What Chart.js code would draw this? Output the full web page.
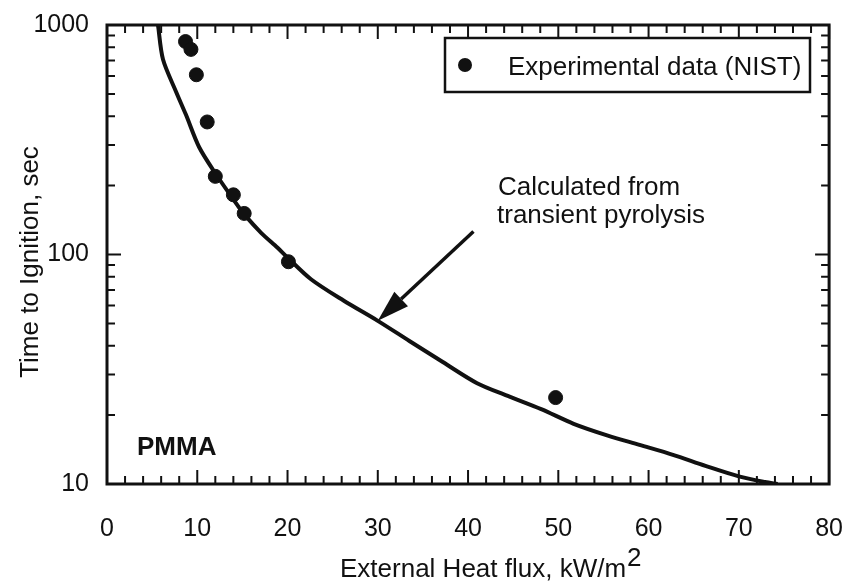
<!DOCTYPE html>
<html>
<head>
<meta charset="utf-8">
<script src="https://cdn.jsdelivr.net/npm/chart.js@4.4.1/dist/chart.umd.min.js"></script>
<style>
  html, body { margin: 0; padding: 0; background: #fff; }
  #wrap { width: 865px; height: 581px; }
</style>
</head>
<body>
<div id="wrap"><canvas id="chart" width="865" height="581"></canvas></div>
<script>
// Experimental data (NIST)
const fluxExp = [8.7, 9.3, 9.9, 11.1, 12.0, 14.0, 15.2, 20.1, 49.7];
const timeExp = [847, 783, 607, 378, 219, 182, 151, 93, 23.8];

// Calculated from transient pyrolysis
const fluxCalc = [5.65, 6.2, 7.65, 8.74, 10.2, 12.0, 14.5, 15.3, 17.1, 18.9, 20.0, 22.6, 26.2, 30.0, 33.5,
  37.2, 41.0, 44.4, 48.1, 51.7, 55.4, 59.0, 62.7, 66.3, 70.0, 72.9, 74.3];
const timeCalc = [1000, 709, 512, 407, 294, 226, 163, 148, 124, 107, 97, 78, 63, 51.4, 42,
  34, 27.5, 24.2, 21.2, 18.3, 16.3, 14.8, 13.4, 12.0, 10.8, 10.2, 10];

const yTickLabels = [10, 100, 1000];
const xMajor = [0, 10, 20, 30, 40, 50, 60, 70, 80];

const FONT = '"Liberation Sans", Arial, Helvetica, sans-serif';
const INK = '#111';

// frame, inward ticks, legend and notes
const decorations = {
  id: 'decorations',
  afterDraw(chart) {
    const { ctx, chartArea: a, scales: { x, y } } = chart;
    ctx.save();
    ctx.strokeStyle = INK;
    ctx.fillStyle = INK;

    // ticks
    ctx.lineWidth = 2;
    ctx.beginPath();
    for (let v = 0; v <= 80; v += 2) {
      const px = x.getPixelForValue(v);
      const len = v % 10 === 0 ? 14 : 8;
      ctx.moveTo(px, a.bottom); ctx.lineTo(px, a.bottom - len);
      ctx.moveTo(px, a.top); ctx.lineTo(px, a.top + len);
    }
    for (let d = 10; d <= 1000; d *= 10) {
      for (let m = 1; m <= 9; m++) {
        const v = d * m;
        if (v > 1000) break;
        const py = y.getPixelForValue(v);
        const len = m === 1 ? 14 : 8;
        ctx.moveTo(a.left, py); ctx.lineTo(a.left + len, py);
        ctx.moveTo(a.right, py); ctx.lineTo(a.right - len, py);
      }
    }
    ctx.stroke();

    // frame
    ctx.lineWidth = 3;
    ctx.strokeRect(a.left, a.top, a.right - a.left, a.bottom - a.top);

    // legend box
    const lx = 445, ly = 38, lw = 365, lh = 54;
    ctx.save();
    ctx.beginPath();
    ctx.rect(lx, ly, lw, lh);
    ctx.clip();
    ctx.font = '26px ' + FONT;
    ctx.textBaseline = 'alphabetic';
    ctx.textAlign = 'left';
    ctx.fillText('Experimental data (NIST)', 508, 75);
    ctx.restore();
    ctx.beginPath();
    ctx.arc(465, 65, 7, 0, Math.PI * 2);
    ctx.fill();
    ctx.lineWidth = 2.5;
    ctx.strokeRect(lx, ly, lw, lh);

    // annotation
    ctx.font = '26px ' + FONT;
    ctx.fillText('Calculated from', 498, 195);
    ctx.fillText('transient pyrolysis', 497, 223);

    const hx = x.getPixelForValue(30), hy = y.getPixelForValue(51.4);
    const tx = x.getPixelForValue(40.6), ty = y.getPixelForValue(126);
    const ang = Math.atan2(hy - ty, hx - tx);
    const headLen = 32, headW = 10;
    const bx = hx - headLen * Math.cos(ang), by = hy - headLen * Math.sin(ang);
    ctx.lineWidth = 3.5;
    ctx.beginPath();
    ctx.moveTo(tx, ty); ctx.lineTo(bx, by);
    ctx.stroke();
    ctx.beginPath();
    ctx.moveTo(hx, hy);
    ctx.lineTo(bx + headW * Math.sin(ang), by - headW * Math.cos(ang));
    ctx.lineTo(bx - headW * Math.sin(ang), by + headW * Math.cos(ang));
    ctx.closePath();
    ctx.fill();

    // PMMA label
    ctx.font = 'bold 26px ' + FONT;
    ctx.fillText('PMMA', 137, 455);

    // axis titles
    ctx.font = '26px ' + FONT;
    const base = 'External Heat flux, kW/m';
    ctx.fillText(base, 340, 577);
    const w = ctx.measureText(base).width;
    ctx.fillText('2', 340 + w + 1, 566);

    ctx.save();
    ctx.translate(38, 262);
    ctx.rotate(-Math.PI / 2);
    ctx.textAlign = 'center';
    ctx.fillText('Time to Ignition, sec', 0, 0);
    ctx.restore();

    ctx.restore();
  }
};

new Chart(document.getElementById('chart'), {
  type: 'scatter',
  data: {
    datasets: [
      {
        label: 'Experimental data (NIST)',
        data: fluxExp.map((v, i) => ({ x: v, y: timeExp[i] })),
        backgroundColor: INK,
        borderColor: INK,
        pointRadius: 7,
        pointHoverRadius: 7
      },
      {
        label: 'Calculated from transient pyrolysis',
        data: fluxCalc.map((v, i) => ({ x: v, y: timeCalc[i] })),
        showLine: true,
        borderColor: INK,
        borderWidth: 4,
        pointRadius: 0,
        tension: 0.3
      }
    ]
  },
  options: {
    responsive: false,
    animation: false,
    layout: { padding: { top: 15, right: 23, left: 0, bottom: 0 } },
    plugins: { legend: { display: false }, tooltip: { enabled: false } },
    scales: {
      x: {
        type: 'linear',
        min: 0,
        max: 80,
        grid: { display: false },
        border: { display: false },
        ticks: {
          stepSize: 10,
          maxRotation: 0,
          padding: 22,
          color: INK,
          font: { size: 25, family: FONT },
          callback: v => xMajor.includes(v) ? String(v) : ''
        },
        afterFit(s) { s.height = 97; }
      },
      y: {
        type: 'logarithmic',
        min: 10,
        max: 1000,
        grid: { display: false },
        border: { display: false },
        ticks: {
          autoSkip: false,
          padding: 10,
          color: INK,
          font: { size: 25, family: FONT },
          callback: v => yTickLabels.includes(v) ? String(v) : ''
        },
        afterFit(s) { s.width = 107; }
      }
    }
  },
  plugins: [decorations]
});
</script>
</body>
</html>
